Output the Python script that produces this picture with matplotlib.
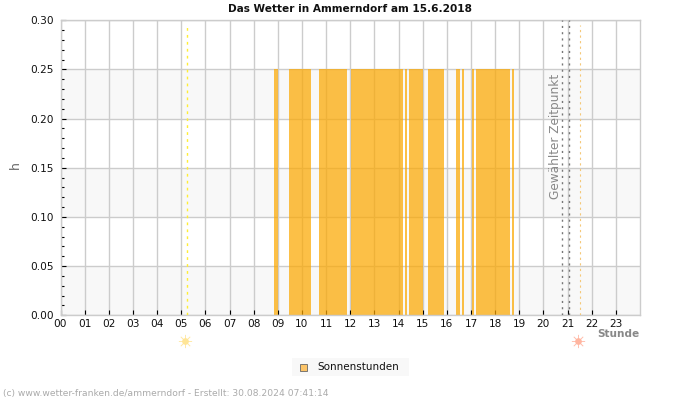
import matplotlib
matplotlib.use("Agg")
import matplotlib.pyplot as plt
from matplotlib.patches import Rectangle

# Data
hours = ["%02d" % h for h in range(24)]
sun_start = [8.84, 9.46, 10.70, 12.03, 14.27, 14.43, 15.22, 16.38, 16.63, 17.04, 17.20, 18.70]
sun_end = [9.01, 10.37, 11.86, 14.18, 14.35, 15.01, 15.88, 16.54, 16.71, 17.12, 18.61, 18.78]
sun_value = [0.25] * len(sun_start)
y_ticks = [0.00, 0.05, 0.10, 0.15, 0.20, 0.25, 0.30]
y_minor = [0.01 * i for i in range(31)]
sunrise_line = 5.22
sunset_line = 21.50
sunrise_icon = 5.14
sunset_icon = 21.43
selected_lines = [20.78, 21.06]

# Figure
fig = plt.figure(figsize=(7, 4), dpi=100)
ax = fig.add_axes([60.5 / 700, 1 - 315.3 / 400, 579.5 / 700, 295 / 400])
ax.set_xlim(0, 24)
ax.set_ylim(0, 0.30)

# Alternating bands
for low in [0.00, 0.10, 0.20]:
    ax.axhspan(low, low + 0.05, color="#f8f8f8", lw=0, zorder=0)

# Grid
ax.set_xticks(range(24))
ax.set_xticklabels(hours)
ax.set_yticks(y_ticks)
ax.set_yticklabels(["%.2f" % v for v in y_ticks])
ax.set_yticks(y_minor, minor=True)
ax.grid(axis="both", which="major", color="#cccccc", linewidth=1, zorder=1)
ax.set_axisbelow(True)
for spine in ax.spines.values():
    spine.set_color("#cccccc")
    spine.set_linewidth(1)
ax.tick_params(axis="both", which="major", direction="in", length=3.6, width=0.8,
               color="black", labelsize=7.6, labelcolor="#111111")
ax.tick_params(axis="x", which="major", pad=2.8)
ax.tick_params(axis="y", which="major", pad=5)
ax.tick_params(axis="y", which="minor", direction="in", length=1.8, width=0.8, color="black")

# Sunshine bars
widths = [e - s for s, e in zip(sun_start, sun_end)]
ax.bar(sun_start, sun_value, width=widths, align="edge", color="#fca800",
       alpha=0.72, linewidth=0, zorder=2)

# Vertical markers
ax.axvline(sunrise_line, color="#ffee33", linestyle=(0, (2, 3)), linewidth=1, ymax=0.985, zorder=3)
ax.axvline(sunset_line, color="#f5c878", linestyle=(0, (2, 3)), linewidth=0.8, ymax=0.985, zorder=3)
for x in selected_lines:
    ax.axvline(x, color="#777777", linestyle=(0, (1.5, 3)), linewidth=1, zorder=3)

ax.text(20.5, 0.182, "Gewählter Zeitpunkt", rotation=90, ha="center", va="center",
        color="#888888", fontsize=8.7, zorder=4)

# Sun icons below the axis
trans = ax.get_xaxis_transform()
for x, col in [(sunrise_icon, "#ffe596"), (sunset_icon, "#ffb5a0")]:
    ax.plot([x], [-0.087], transform=trans, clip_on=False, marker=(8, 2, 0),
            markersize=9.5, markeredgecolor=col, markeredgewidth=0.5, alpha=0.8, linestyle="none")
    ax.plot([x], [-0.087], transform=trans, clip_on=False, marker="o",
            markersize=4.8, markerfacecolor=col, markeredgewidth=0, linestyle="none")

# Texts
fig.text(349.5 / 700, 1 - 9 / 400, "Das Wetter in Ammerndorf am 15.6.2018", ha="center", va="center",
         fontsize=7.6, fontweight="bold", color="#111111")
fig.text(15 / 700, 1 - 165 / 400, "h", rotation=90, ha="center", va="center",
         fontsize=9, color="#666666")
fig.text(639 / 700, 1 - 334 / 400, "Stunde", ha="right", va="center",
         fontsize=7.6, fontweight="bold", color="#888888")
fig.text(3 / 700, 1 - 393.5 / 400, "(c) www.wetter-franken.de/ammerndorf - Erstellt: 30.08.2024 07:41:14",
         ha="left", va="center", fontsize=6.6, color="#aaaaaa")

# Legend
fig.add_artist(Rectangle((292 / 700, 1 - 376 / 400), 117 / 700, 18 / 400, transform=fig.transFigure,
                         facecolor="#f8f8f8", edgecolor="none"))
fig.add_artist(Rectangle((300 / 700, 1 - 370.5 / 400), 7 / 700, 7 / 400, transform=fig.transFigure,
                         facecolor="#fcc468", edgecolor="#666666", linewidth=0.6))
fig.text(317 / 700, 1 - 366.5 / 400, "Sonnenstunden", ha="left", va="center",
         fontsize=7.45, color="#111111")

fig.savefig("out.png", dpi=100)
